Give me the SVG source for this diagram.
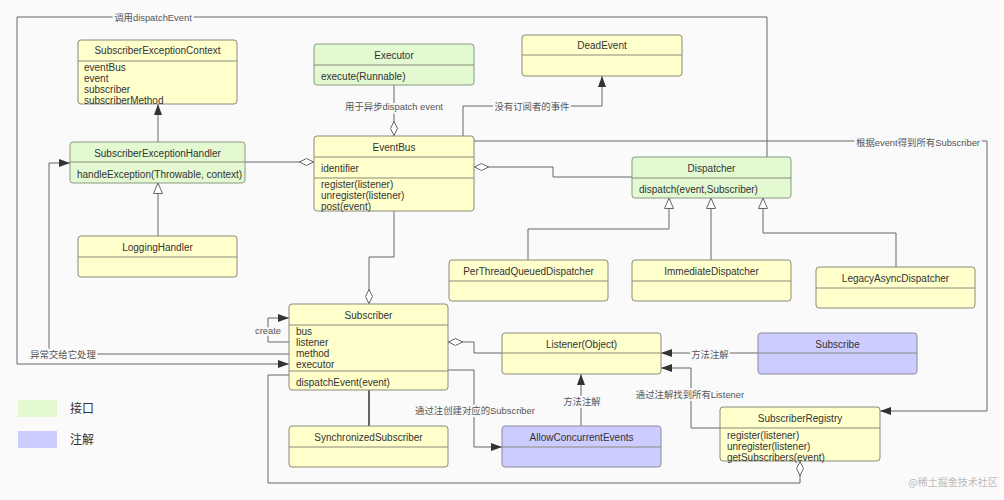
<svg xmlns="http://www.w3.org/2000/svg" width="1004" height="500" viewBox="0 0 1004 500">
<style>
.bx{fill:#ffffcc;stroke:#8a8a7a;stroke-width:1}
.gr{fill:#e2f9d2;stroke:#8a9a80;stroke-width:1}
.pu{fill:#ccccff;stroke:#8a8aa0;stroke-width:1}
.sep{stroke:#8a8a7a;stroke-width:1}
.t{font-family:"Liberation Sans",Arial,sans-serif;font-size:10px;fill:#333}
.c{text-anchor:middle}
.cn{fill:none;stroke:#666;stroke-width:1}
.lb{font-family:"Liberation Sans","Noto Sans CJK SC",sans-serif;font-size:9.4px;fill:#555;text-anchor:middle;stroke:#fafafa;stroke-width:4;paint-order:stroke;stroke-linejoin:round}
.lg{font-family:"Noto Sans CJK SC",sans-serif;font-size:12px;fill:#333}
</style>
<defs>
<marker id="arr" markerUnits="userSpaceOnUse" markerWidth="12" markerHeight="10" refX="11" refY="4" orient="auto"><path d="M0,0 L11,4 L0,8 Z" fill="#333"/></marker>
<marker id="tri" markerUnits="userSpaceOnUse" markerWidth="12" markerHeight="12" refX="11" refY="5" orient="auto"><path d="M0.5,0.5 L11,5 L0.5,9.5 Z" fill="#fff" stroke="#666"/></marker>
<marker id="dia" markerUnits="userSpaceOnUse" markerWidth="16" markerHeight="10" refX="0" refY="4.5" orient="auto"><path d="M0.5,4.5 L7.5,1 L14.5,4.5 L7.5,8 Z" fill="#fff" stroke="#666"/></marker>
</defs>
<rect x="0" y="0" width="1004" height="500" fill="#fafafa"/>

<g id="connectors">
<path class="cn" d="M767,157 V17 H17 V364 H289" marker-end="url(#arr)"/>
<path class="cn" d="M289,354 H49 V163 H70" marker-end="url(#arr)"/>
<path class="cn" d="M158,142 V104" marker-end="url(#arr)"/>
<path class="cn" d="M158,236 V183" marker-end="url(#tri)"/>
<path class="cn" d="M314,162 H245" marker-start="url(#dia)"/>
<path class="cn" d="M394,136 V85" marker-start="url(#dia)"/>
<path class="cn" d="M463,136 V106 H602 V76" marker-end="url(#arr)"/>
<path class="cn" d="M474,141 H987 V411 H880" marker-end="url(#arr)"/>
<path class="cn" d="M474,167 H553 V177 H632" marker-start="url(#dia)"/>
<path class="cn" d="M528,260 V229 H669 V198" marker-end="url(#tri)"/>
<path class="cn" d="M711,260 V198" marker-end="url(#tri)"/>
<path class="cn" d="M896,267 V233 H763 V198" marker-end="url(#tri)"/>
<path class="cn" d="M369,304 V257 H394 V211" marker-start="url(#dia)"/>
<path class="cn" d="M289,342 H268 V318 H289" marker-end="url(#arr)"/>
<path class="cn" d="M448,342 H474 V353 H502" marker-start="url(#dia)"/>
<path class="cn" d="M448,370 H474 V447 H502" marker-end="url(#arr)"/>
<path class="cn" d="M581,426 V374" marker-end="url(#arr)"/>
<path class="cn" d="M758,353 H661" marker-end="url(#arr)"/>
<path class="cn" d="M720,428 H691 V368 H661" marker-end="url(#arr)"/>
<path class="cn" d="M800,461 V483 H268 V375 H289" marker-start="url(#dia)"/>
<path class="cn" d="M369,390 V426" style="stroke:#333;stroke-width:1.5"/>
<text class="lb" x="153" y="20.5">调用dispatchEvent</text>
<text class="lb" x="63" y="357.5">异常交给它处理</text>
<text class="lb" x="394" y="109.5">用于异步dispatch event</text>
<text class="lb" x="532" y="109.5">没有订阅者的事件</text>
<text class="lb" x="918" y="145.5">根据event得到所有Subscriber</text>
<text class="lb" x="268" y="333.5">create</text>
<text class="lb" x="475" y="413.5">通过注创建对应的Subscriber</text>
<text class="lb" x="582" y="404.5">方法注解</text>
<text class="lb" x="710" y="357.5">方法注解</text>
<text class="lb" x="690" y="397.5">通过注解找到所有Listener</text>
</g>

<g id="SubscriberExceptionContext">
<rect class="bx" x="78" y="40" width="159" height="64" rx="3"/>
<line class="sep" x1="78" y1="61" x2="237" y2="61"/>
<text class="t c" x="157.5" y="54">SubscriberExceptionContext</text>
<text class="t" x="84" y="70.5">eventBus</text>
<text class="t" x="84" y="81.5">event</text>
<text class="t" x="84" y="92.5">subscriber</text>
<text class="t" x="84" y="103.5">subscriberMethod</text>
</g>
<g id="Executor">
<rect class="gr" x="314" y="44" width="160" height="41" rx="3"/>
<line class="sep" x1="314" y1="65" x2="474" y2="65"/>
<text class="t c" x="394" y="58.5">Executor</text>
<text class="t" x="321" y="79.5">execute(Runnable)</text>
</g>
<g id="DeadEvent">
<rect class="bx" x="522" y="35" width="160" height="41" rx="3"/>
<line class="sep" x1="522" y1="55" x2="682" y2="55"/>
<text class="t c" x="602" y="49">DeadEvent</text>
</g>
<g id="SubscriberExceptionHandler">
<rect class="gr" x="70" y="142" width="175" height="41" rx="3"/>
<line class="sep" x1="70" y1="162" x2="245" y2="162"/>
<text class="t c" x="157.5" y="156.5">SubscriberExceptionHandler</text>
<text class="t" x="77" y="177.5">handleException(Throwable, context)</text>
</g>
<g id="EventBus">
<rect class="bx" x="314" y="136" width="160" height="75" rx="3"/>
<line class="sep" x1="314" y1="157" x2="474" y2="157"/>
<line class="sep" x1="314" y1="178" x2="474" y2="178"/>
<text class="t c" x="394" y="150.5">EventBus</text>
<text class="t" x="321" y="171.5">identifier</text>
<text class="t" x="321" y="187.5">register(listener)</text>
<text class="t" x="321" y="198.5">unregister(listener)</text>
<text class="t" x="321" y="209.5">post(event)</text>
</g>
<g id="Dispatcher">
<rect class="gr" x="632" y="157" width="159" height="41" rx="3"/>
<line class="sep" x1="632" y1="178" x2="791" y2="178"/>
<text class="t c" x="711.5" y="171.5">Dispatcher</text>
<text class="t" x="639" y="192.5">dispatch(event,Subscriber)</text>
</g>
<g id="LoggingHandler">
<rect class="bx" x="78" y="236" width="159" height="41" rx="3"/>
<line class="sep" x1="78" y1="257" x2="237" y2="257"/>
<text class="t c" x="157.5" y="250.5">LoggingHandler</text>
</g>
<g id="PerThreadQueuedDispatcher">
<rect class="bx" x="449" y="260" width="159" height="41" rx="3"/>
<line class="sep" x1="449" y1="281" x2="608" y2="281"/>
<text class="t c" x="528.5" y="274.5">PerThreadQueuedDispatcher</text>
</g>
<g id="ImmediateDispatcher">
<rect class="bx" x="632" y="260" width="159" height="41" rx="3"/>
<line class="sep" x1="632" y1="281" x2="791" y2="281"/>
<text class="t c" x="711.5" y="274.5">ImmediateDispatcher</text>
</g>
<g id="LegacyAsyncDispatcher">
<rect class="bx" x="816" y="267" width="159" height="41" rx="3"/>
<line class="sep" x1="816" y1="288" x2="975" y2="288"/>
<text class="t c" x="895.5" y="281.5">LegacyAsyncDispatcher</text>
</g>
<g id="Subscriber">
<rect class="bx" x="289" y="304" width="159" height="86" rx="3"/>
<line class="sep" x1="289" y1="325" x2="448" y2="325"/>
<line class="sep" x1="289" y1="371" x2="448" y2="371"/>
<text class="t c" x="368.5" y="318.5">Subscriber</text>
<text class="t" x="296" y="334.5">bus</text>
<text class="t" x="296" y="345.5">listener</text>
<text class="t" x="296" y="356.5">method</text>
<text class="t" x="296" y="367.5">executor</text>
<text class="t" x="296" y="385.5">dispatchEvent(event)</text>
</g>
<g id="Listener">
<rect class="bx" x="502" y="333" width="159" height="41" rx="3"/>
<line class="sep" x1="502" y1="353" x2="661" y2="353"/>
<text class="t c" x="581.5" y="347.5">Listener(Object)</text>
</g>
<g id="Subscribe">
<rect class="pu" x="758" y="333" width="159" height="41" rx="3"/>
<line class="sep" x1="758" y1="353" x2="917" y2="353"/>
<text class="t c" x="837.5" y="347.5">Subscribe</text>
</g>
<g id="SynchronizedSubscriber">
<rect class="bx" x="289" y="426" width="159" height="41" rx="3"/>
<line class="sep" x1="289" y1="447" x2="448" y2="447"/>
<text class="t c" x="368.5" y="440.5">SynchronizedSubscriber</text>
</g>
<g id="AllowConcurrentEvents">
<rect class="pu" x="502" y="426" width="159" height="41" rx="3"/>
<line class="sep" x1="502" y1="447" x2="661" y2="447"/>
<text class="t c" x="581.5" y="440.5">AllowConcurrentEvents</text>
</g>
<g id="SubscriberRegistry">
<rect class="bx" x="720" y="407" width="160" height="54" rx="3"/>
<line class="sep" x1="720" y1="428" x2="880" y2="428"/>
<text class="t c" x="800" y="421.5">SubscriberRegistry</text>
<text class="t" x="727" y="438.5">register(listener)</text>
<text class="t" x="727" y="449.5">unregister(listener)</text>
<text class="t" x="727" y="460.5">getSubscribers(event)</text>
</g>

<g id="legend">
<rect x="18" y="400" width="39" height="17" fill="#e2f9d2"/>
<text class="lg" x="70" y="413">接口</text>
<rect x="18" y="431" width="39" height="17" fill="#ccccff"/>
<text class="lg" x="70" y="444">注解</text>
</g>
<text x="953" y="486" text-anchor="middle" style="font-family:'Noto Sans CJK SC',sans-serif;font-size:10px;fill:#bbb">@稀土掘金技术社区</text>
</svg>
